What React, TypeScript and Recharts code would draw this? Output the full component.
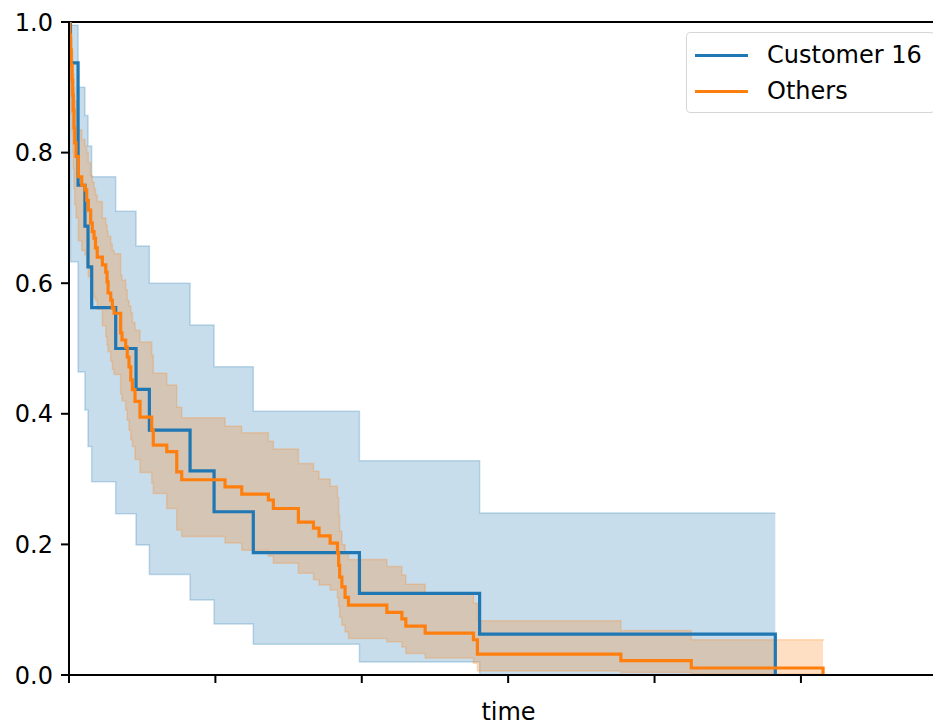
import { ComposedChart, Area, Line, XAxis, YAxis, ReferenceLine } from "recharts";

// Customer 16 (Kaplan-Meier estimate with confidence band)
const customerTimes = [0, 1.0, 6.2, 10.9, 13.0, 15.5, 31.9, 45.8, 54.9, 82.7, 99.1, 125.9, 198.4, 280.5, 482.5];
const customerSurvival = [1, 0.9375, 0.75, 0.6875, 0.625, 0.5625, 0.5, 0.4375, 0.375, 0.3125, 0.25, 0.1875, 0.125, 0.0625, 0];
const customerUpper = [1, 0.995, 0.9, 0.857, 0.81, 0.763, 0.71, 0.657, 0.6, 0.536, 0.472, 0.404, 0.328, 0.248, 0.248];
const customerLower = [1, 0.633, 0.464, 0.406, 0.35, 0.296, 0.247, 0.199, 0.154, 0.115, 0.078, 0.047, 0.02, 0, 0];

// Others
const othersTimes = [
  0, 0.5, 1.0, 1.5, 2.1, 2.5, 2.9, 3.4, 3.9, 4.8, 6.4, 8.7, 10.9, 12.1, 13.2, 14.8, 15.9, 17.1, 18.1, 19.3,
  22.8, 25.1, 26.0, 26.7, 28.5, 29.6, 30.8, 35.3, 36.2, 38.7, 39.8, 41.0, 42.2, 43.3, 45.1, 48.5, 56.5, 57.6,
  66.8, 73.6, 77.0, 106.6, 118.0, 136.2, 139.6, 156.7, 167.0, 170.8, 178.4, 183.4, 184.2, 184.9, 186.4, 188.6,
  190.9, 217.1, 227.4, 230.1, 243.3, 276.3, 279.0, 377.0, 425.1, 515.1,
];
const othersSurvival = [
  1, 0.98, 0.957, 0.934, 0.911, 0.888, 0.865, 0.838, 0.815, 0.794, 0.763, 0.75, 0.743, 0.727, 0.712, 0.692, 0.679,
  0.669, 0.654, 0.64, 0.628, 0.617, 0.602, 0.585, 0.574, 0.562, 0.554, 0.524, 0.513, 0.502, 0.487, 0.472, 0.452,
  0.437, 0.419, 0.395, 0.375, 0.352, 0.342, 0.311, 0.299, 0.288, 0.277, 0.268, 0.255, 0.234, 0.225, 0.213, 0.202,
  0.187, 0.168, 0.15, 0.135, 0.119, 0.107, 0.096, 0.086, 0.075, 0.064, 0.054, 0.032, 0.022, 0.0107, 0,
];
const othersUpper = [
  1, 1, 0.99, 0.975, 0.96, 0.94, 0.92, 0.9, 0.88, 0.86, 0.835, 0.82, 0.81, 0.8, 0.785, 0.765, 0.755, 0.745, 0.735,
  0.725, 0.7, 0.69, 0.68, 0.672, 0.66, 0.65, 0.645, 0.612, 0.605, 0.59, 0.574, 0.565, 0.555, 0.54, 0.528, 0.51,
  0.49, 0.462, 0.444, 0.41, 0.394, 0.381, 0.371, 0.358, 0.346, 0.324, 0.312, 0.3, 0.289, 0.272, 0.245, 0.22, 0.2,
  0.188, 0.177, 0.166, 0.153, 0.139, 0.125, 0.11, 0.083, 0.068, 0.054, 0.052,
];
const othersLower = [
  1, 0.93, 0.89, 0.86, 0.83, 0.8, 0.775, 0.745, 0.72, 0.7, 0.665, 0.65, 0.643, 0.625, 0.61, 0.595, 0.585, 0.578,
  0.574, 0.56, 0.535, 0.518, 0.505, 0.495, 0.48, 0.468, 0.46, 0.43, 0.42, 0.406, 0.39, 0.375, 0.36, 0.35, 0.33,
  0.31, 0.294, 0.278, 0.255, 0.222, 0.212, 0.202, 0.191, 0.182, 0.171, 0.156, 0.146, 0.138, 0.13, 0.118, 0.105,
  0.088, 0.076, 0.066, 0.056, 0.051, 0.043, 0.033, 0.026, 0.018, 0.006, 0.004, 0.002, 0,
];

const xTicks = [0, 100, 200, 300, 400, 500];
const yTicks = [0, 0.2, 0.4, 0.6, 0.8, 1.0];

const BLUE = "#1f77b4";
const ORANGE = "#ff7f0e";
const FONT = "DejaVu Sans, sans-serif";

function rows(times: number[], s: number[], lo: number[], hi: number[]) {
  return times.map((t, i) => ({ t, s: s[i], band: [lo[i], hi[i]] }));
}

const customerRows = rows(customerTimes, customerSurvival, customerLower, customerUpper);
const othersRows = rows(othersTimes, othersSurvival, othersLower, othersUpper);

const axisStyle = { stroke: "#000", strokeWidth: 2 };

export default function App() {
  return (
    <div style={{ position: "relative", width: 932, height: 718, fontFamily: FONT }}>
      <ComposedChart width={932} height={718} margin={{ top: 14, right: 0, left: 0, bottom: 0 }}>
        <XAxis
          type="number"
          dataKey="t"
          domain={[0, 595]}
          ticks={xTicks}
          tickFormatter={() => ""}
          tickSize={8}
          height={51}
          axisLine={axisStyle}
          tickLine={axisStyle}
          allowDataOverflow
          label={{ value: "time", position: "insideBottom", offset: 6, dx: 4, fill: "#000", fontSize: 24, fontFamily: FONT }}
        />
        <YAxis
          type="number"
          domain={[0, 1]}
          ticks={yTicks}
          tickFormatter={(v: number) => v.toFixed(1)}
          width={61}
          tickSize={8}
          tickMargin={8}
          axisLine={axisStyle}
          tickLine={axisStyle}
          tick={{ fill: "#000", fontSize: 24, fontFamily: FONT }}
          allowDataOverflow
        />
        <ReferenceLine y={1} stroke="#000" strokeWidth={2} />
        <Area
          data={customerRows}
          dataKey="band"
          type="stepAfter"
          fill={BLUE}
          fillOpacity={0.25}
          stroke={BLUE}
          strokeOpacity={0.25}
          strokeWidth={1.5}
          isAnimationActive={false}
          activeDot={false}
        />
        <Area
          data={othersRows}
          dataKey="band"
          type="stepAfter"
          fill={ORANGE}
          fillOpacity={0.25}
          stroke={ORANGE}
          strokeOpacity={0.25}
          strokeWidth={1.5}
          isAnimationActive={false}
          activeDot={false}
        />
        <Line
          data={customerRows}
          dataKey="s"
          type="stepAfter"
          stroke={BLUE}
          strokeWidth={3.2}
          dot={false}
          activeDot={false}
          isAnimationActive={false}
        />
        <Line
          data={othersRows}
          dataKey="s"
          type="stepAfter"
          stroke={ORANGE}
          strokeWidth={3.2}
          dot={false}
          activeDot={false}
          isAnimationActive={false}
        />
      </ComposedChart>
      <div
        style={{
          position: "absolute",
          left: 678,
          top: 24,
          width: 247,
          height: 79,
          border: "1px solid #d6d6d6",
          borderRadius: 4,
          background: "rgba(255,255,255,0.8)",
          fontSize: 24,
          color: "#000",
        }}
      >
        {[
          { name: "Customer 16", color: BLUE, y: 22 },
          { name: "Others", color: ORANGE, y: 58 },
        ].map((item) => (
          <div key={item.name} style={{ position: "absolute", left: 0, top: item.y - 15, height: 30, width: "100%" }}>
            <div style={{ position: "absolute", left: 8, top: 14, width: 53, height: 3, background: item.color }} />
            <span style={{ position: "absolute", left: 80, top: 0, lineHeight: "30px", whiteSpace: "nowrap" }}>
              {item.name}
            </span>
          </div>
        ))}
      </div>
    </div>
  );
}
